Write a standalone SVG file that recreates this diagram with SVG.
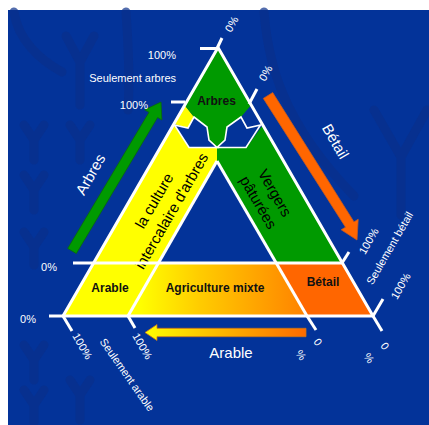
<svg xmlns="http://www.w3.org/2000/svg" width="429" height="425" viewBox="0 0 429 425">
  <style>
    .bg { fill: #033399; }
    .wm { fill: none; stroke: #0a2f8a; stroke-width: 9; stroke-linecap: round; stroke-linejoin: round; opacity: 0.7; }
    .edge { fill: none; stroke: #ffffff; stroke-width: 3; stroke-linecap: butt; }
    .tick { fill: none; stroke: #ffffff; stroke-width: 3; }
    .lbl { font-family: "Liberation Sans", Arial, sans-serif; font-size: 11px; fill: #ffffff; }
    .axis { font-family: "Liberation Sans", Arial, sans-serif; font-size: 15px; fill: #ffffff; }
    .zone { font-family: "Liberation Sans", Arial, sans-serif; font-size: 12px; font-weight: bold; fill: #111111; }
    .band { font-family: "Liberation Sans", Arial, sans-serif; font-size: 15px; fill: #000000; }
    .hole { fill: #033399; stroke: #ffffff; stroke-width: 1.6; stroke-linejoin: miter; }
  </style>
  <defs>
    <linearGradient id="mixGrad" gradientUnits="userSpaceOnUse" x1="140" y1="0" x2="310" y2="0">
      <stop offset="0" stop-color="#ffff00"/>
      <stop offset="0.35" stop-color="#ffcc00"/>
      <stop offset="1" stop-color="#ff7f00"/>
    </linearGradient>
    <linearGradient id="arableGrad" gradientUnits="userSpaceOnUse" x1="145" y1="0" x2="306" y2="0">
      <stop offset="0" stop-color="#ffff00"/>
      <stop offset="0.5" stop-color="#ffb300"/>
      <stop offset="1" stop-color="#ff6a00"/>
    </linearGradient>
  </defs>

  <!-- page background -->
  <rect x="0" y="0" width="429" height="425" fill="#ffffff"/>
  <rect class="bg" x="8" y="10" width="421" height="415"/>

  <!-- faint tree watermark -->
  <g id="watermark">
    <path class="wm" d="M14,12 C18,40 40,60 62,72"/>
    <path class="wm" d="M66,36 L80,62 L94,36 M80,62 L80,105"/>
    <path class="wm" d="M126,12 C128,40 130,80 128,110"/>
    <path class="wm" d="M264,12 C268,60 280,120 354,196"/>
    <path class="wm" d="M374,110 L401,157 L427,110 M401,157 L401,215"/>
    <path class="wm" d="M24,125 L34,140 L44,125 M34,140 L34,160"/>
    <path class="wm" d="M24,175 L34,190 L44,175 M34,190 L34,210"/>
    <path class="wm" d="M24,232 L34,247 L44,232 M34,247 L34,265"/>
    <path class="wm" d="M24,345 L34,360 L44,345 M34,360 L34,380"/>
    <path class="wm" d="M24,390 L34,405 L44,390 M34,405 L34,422"/>
    <path class="wm" d="M70,125 L80,140 L90,125 M80,140 L80,160"/>
    <path class="wm" d="M70,380 L80,395 L90,380 M80,395 L80,420"/>
  </g>

  <!-- axis arrows -->
  <g id="connectors">
    <path d="M67.7,248.4 L149,112.3 L144.7,109.8 L161,102 L161.9,120 L157.6,117.5 L76.3,253.6 Z" fill="#009a00" stroke="#0a6a0a" stroke-width="0.8"/>
    <path d="M263.3,98.4 L272.7,92.6 L354,221.9 L358.2,219.3 L357,240 L341.2,229.8 L345.5,227.2 Z" fill="#ff6600" stroke="#c85a1e" stroke-width="0.8"/>
    <path d="M306,328.3 L157,328.3 L157,324.5 L145,332.5 L157,340.5 L157,336.7 L306,336.7 Z" fill="url(#arableGrad)" stroke="#c8741a" stroke-width="0.8"/>
  </g>

  <!-- corner and band regions -->
  <g id="arable">
    <polygon points="63,316 128,316 158,263 93.5,263" fill="#ffff00"/>
    <text class="zone" x="110" y="292" text-anchor="middle" font-size="11.5">Arable</text>
  </g>
  <g id="agriculture-mixte">
    <polygon points="128,316 307,316 276,263 158,263" fill="url(#mixGrad)"/>
    <text class="zone" x="215" y="292" text-anchor="middle">Agriculture mixte</text>
  </g>
  <g id="betail">
    <polygon points="307,316 373,316 342.4,263 276,263" fill="#ff6600"/>
    <text class="zone" x="323" y="286" text-anchor="middle">Bétail</text>
  </g>
  <g id="culture-intercalaire">
    <polygon points="93.5,263 158,263 217,161 217,148 189,148 173.8,124" fill="#ffff00"/>
    <polygon points="184.5,105 194,117 188,128 173.8,124" fill="#ffff00"/>
    <text class="band" transform="translate(163,206) rotate(-60)" text-anchor="middle"><tspan x="0" y="-5">la culture</tspan><tspan x="0" y="15">intercalaire d'arbres</tspan></text>
  </g>
  <g id="vergers-patures">
    <polygon points="342.4,263 276,263 217,161 217,148 246,148 262.8,125 251.2,105" fill="#009a00"/>
    <text class="band" transform="translate(266,198) rotate(60)" text-anchor="middle"><tspan x="0" y="-5">Vergers</tspan><tspan x="0" y="14">pâturées</tspan></text>
  </g>
  <g id="arbres">
    <polygon points="218,47.5 251.2,105 241,117 227,127 225,140 217,147 209,140 207,127 194,117 184.5,105" fill="#009a00"/>
    <!-- the two notched arrows pointing at the trunk -->
    <polygon class="hole" points="174.5,125 188,128 194,117 207,127 209,140 217,147.5 189,147.5"/>
    <polygon class="hole" points="260.5,125 247,128 241,117 227,127 225,140 217,147.5 246,147.5"/>
    <text class="zone" x="216.5" y="105" text-anchor="middle" font-size="13">Arbres</text>
  </g>

  <!-- triangle outline and dividing lines -->
  <g id="grid">
    <path class="edge" d="M63,316 L218,47.5 L373,316"/>
    <path class="edge" d="M49,316 L373,316"/>
    <path class="edge" d="M73,263 L342.4,263"/>
    <path class="edge" d="M128,316 L217,161"/>
    <path class="edge" d="M307,316 L217,161"/>
    <!-- ticks -->
    <path class="tick" d="M200,48.5 L217,48.5 M217,48.5 L222,38"/>
    <path class="tick" d="M171,102 L185,102"/>
    <path class="tick" d="M249,104 L257,89"/>
    <path class="tick" d="M342,263 L349,252"/>
    <path class="tick" d="M373,316 L383,299"/>
    <path class="tick" d="M63,316 L72,331"/>
    <path class="tick" d="M128,316 L135,328"/>
    <path class="tick" d="M307,316 L316,330"/>
    <path class="tick" d="M373,316 L382,331"/>
  </g>

  <!-- axis labels -->
  <g id="labels">
    <text class="lbl" x="176" y="59" text-anchor="end">100%</text>
    <text class="lbl" x="176" y="82" text-anchor="end" font-size="12">Seulement arbres</text>
    <text class="lbl" x="148" y="109" text-anchor="end">100%</text>
    <text class="lbl" x="57" y="271" text-anchor="end">0%</text>
    <text class="lbl" x="36" y="323" text-anchor="end">0%</text>
    <text class="lbl" transform="translate(235,26) rotate(-60)" text-anchor="middle">0%</text>
    <text class="lbl" transform="translate(269,75) rotate(-60)" text-anchor="middle">0%</text>
    <text class="lbl" transform="translate(372,243) rotate(-60)" text-anchor="middle">100%</text>
    <text class="lbl" transform="translate(393,250) rotate(-60)" text-anchor="middle" font-size="12">Seulement bétail</text>
    <text class="lbl" transform="translate(404,288) rotate(-60)" text-anchor="middle">100%</text>
    <text class="lbl" transform="translate(79,348) rotate(60)" text-anchor="middle">100%</text>
    <text class="lbl" transform="translate(139,348) rotate(60)" text-anchor="middle">100%</text>
    <text class="lbl" transform="translate(124,377) rotate(55)" text-anchor="middle" font-size="12">Seulement arable</text>
    <!-- stacked vertical glyphs of the two lower 0% marks -->
    <text class="lbl" transform="translate(318,342) rotate(55)" text-anchor="middle" dy="0.35em" font-size="13">0</text>
    <text class="lbl" transform="translate(301,355) rotate(55)" text-anchor="middle" dy="0.35em" font-size="13">%</text>
    <text class="lbl" transform="translate(385,346) rotate(55)" text-anchor="middle" dy="0.35em" font-size="13">0</text>
    <text class="lbl" transform="translate(369,358) rotate(55)" text-anchor="middle" dy="0.35em" font-size="13">%</text>
    <text class="axis" transform="translate(95,177) rotate(-60)" text-anchor="middle">Arbres</text>
    <text class="axis" transform="translate(331,144) rotate(60)" text-anchor="middle">Bétail</text>
    <text class="axis" x="231" y="358" text-anchor="middle">Arable</text>
  </g>
</svg>
